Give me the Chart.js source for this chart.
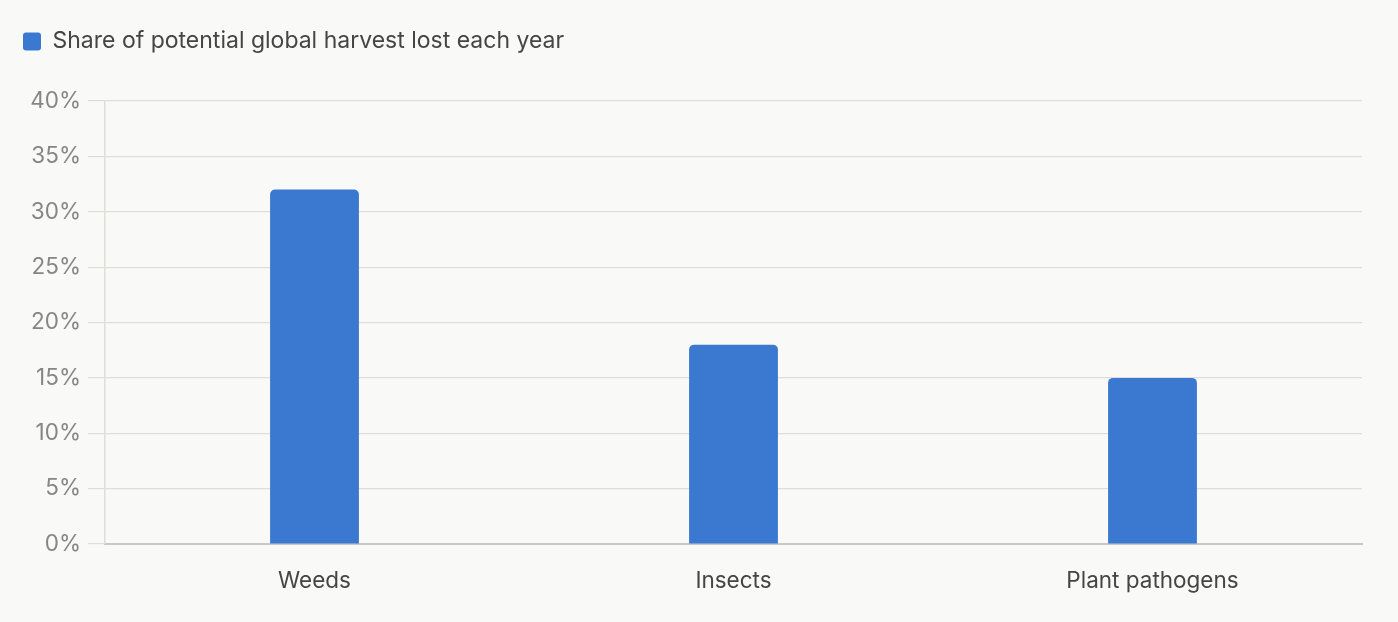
<!DOCTYPE html>
<html>
<head>
<meta charset="utf-8">
<script src="https://cdn.jsdelivr.net/npm/chart.js@4"></script>
<style>
  html, body { margin: 0; padding: 0; background: #f9f9f7; }
  #wrap { width: 1398px; height: 622px; }
</style>
</head>
<body>
<div id="wrap"><canvas id="chart"></canvas></div>
<script>
const categories = ['Weeds', 'Insects', 'Plant pathogens'];
const lossShare = [32, 18, 15];
const seriesName = 'Share of potential global harvest lost each year';

// push the plot down a bit below the legend
const legendSpacer = {
    id: 'legendSpacer',
    beforeInit(chart) {
        const origFit = chart.legend.fit;
        chart.legend.fit = function () {
            origFit.bind(chart.legend)();
            this.height += 38;
        };
    }
};

const ctx = document.getElementById('chart').getContext('2d');
new Chart(ctx, {
    type: 'bar',
    data: {
        labels: categories,
        datasets: [{
            label: seriesName,
            data: lossShare,
            backgroundColor: '#3b78cf',
            borderRadius: { topLeft: 5, topRight: 5 },
            borderSkipped: 'bottom',
            categoryPercentage: 0.212,
            barPercentage: 1
        }]
    },
    plugins: [legendSpacer],
    options: {
        responsive: true,
        maintainAspectRatio: false,
        animation: false,
        layout: { padding: { left: 13, right: 36, top: 20, bottom: 11 } },
        plugins: {
            tooltip: { enabled: false },
            legend: {
                align: 'start',
                labels: {
                    boxWidth: 18,
                    boxHeight: 18,
                    useBorderRadius: true,
                    borderRadius: 3,
                    color: '#454545',
                    font: { family: 'Inter', size: 23 },
                    padding: 10
                }
            }
        },
        scales: {
            x: {
                grid: { display: false },
                border: { color: '#c8c8c4', width: 2 },
                ticks: { color: '#454545', font: { family: 'Inter', size: 22.5 }, padding: 16 }
            },
            y: {
                min: 0,
                max: 40,
                afterFit(scale) { scale.width = 92; },
                ticks: {
                    stepSize: 5,
                    color: '#868682',
                    font: { family: 'Inter', size: 22.5 },
                    padding: 7,
                    callback: v => v + '%'
                },
                grid: { color: '#deded9', tickLength: 17, lineWidth: 1.2 },
                border: { color: '#deded9', width: 1.5 }
            }
        }
    }
});
</script>
</body>
</html>
